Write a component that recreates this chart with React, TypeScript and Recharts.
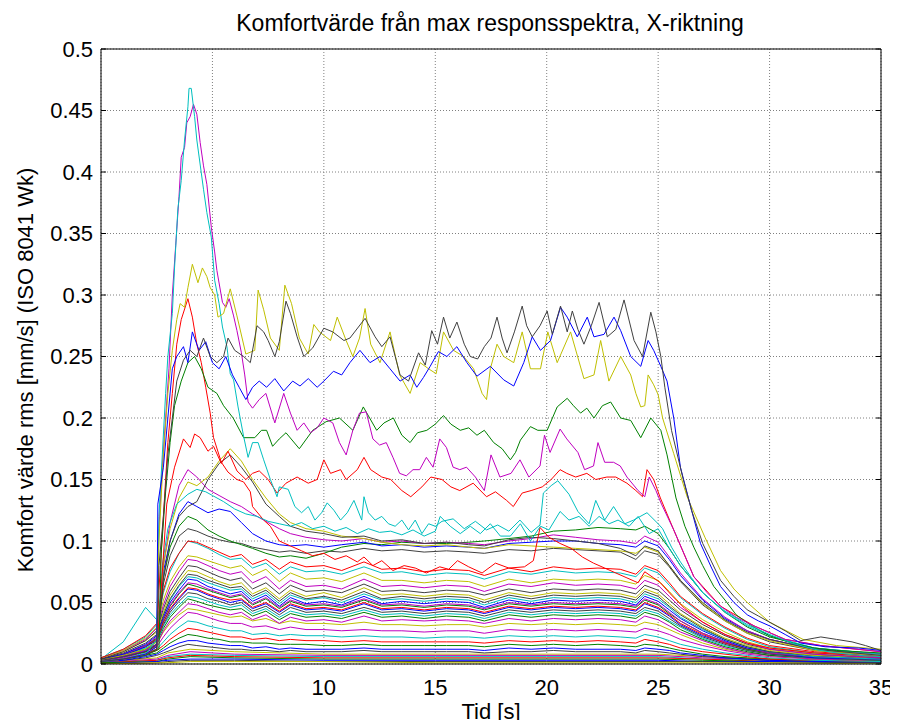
import React from 'react';
import { LineChart, Line, XAxis, YAxis, CartesianGrid } from 'recharts';

const BLUE = '#0000ff';
const GREEN = '#008000';
const RED = '#ff0000';
const CYAN = '#00bfbf';
const MAGENTA = '#bf00bf';
const YELLOW = '#bfbf00';
const BLACK = '#404040';

const TITLE = 'Komfortvärde från max responsspektra, X-riktning';
const X_LABEL = 'Tid [s]';
const Y_LABEL = 'Komfort värde rms [mm/s] (ISO 8041 Wk)';

const xTicks = [0, 5, 10, 15, 20, 25, 30, 35];
const yTicks = [0, 0.05, 0.1, 0.15, 0.2, 0.25, 0.3, 0.35, 0.4, 0.45, 0.5];

// shared time grids (s)
const tGrid = [0, 1, 2, 2.5, 2.8, 3.1, 3.5, 3.9, 4.3, 4.8,
  5.3, 5.8, 6.3, 6.8, 7.4, 8, 8.5, 9.2, 10, 10.8,
  11.8, 12.6, 13.5, 14.5, 15.5, 16.5, 17.2, 18.3, 19.3, 20.3,
  21.3, 22.3, 23.3, 24, 24.4, 25, 25.5, 26, 27, 28,
  29, 30, 32, 35];
const tLow = [0, 2.5, 3, 4, 6, 10, 15, 20, 25, 27, 30, 35];

// near-zero lines
const z1 = [0.001, 0.005, 0.009, 0.012, 0.01, 0.008, 0.008, 0.008, 0.008, 0.006, 0.004, 0.003];
const z2 = [0.001, 0.004, 0.007, 0.01, 0.008, 0.007, 0.007, 0.007, 0.007, 0.005, 0.003, 0.002];
const z3 = [0.001, 0.003, 0.006, 0.008, 0.007, 0.006, 0.006, 0.006, 0.006, 0.004, 0.003, 0.002];
const z4 = [0.001, 0.003, 0.005, 0.007, 0.006, 0.005, 0.005, 0.005, 0.005, 0.004, 0.002, 0.002];
const z5 = [0.001, 0.002, 0.004, 0.006, 0.005, 0.004, 0.004, 0.004, 0.004, 0.003, 0.002, 0.001];
const z6 = [0.0, 0.002, 0.003, 0.004, 0.004, 0.003, 0.003, 0.003, 0.003, 0.002, 0.002, 0.001];
const z7 = [0.0, 0.001, 0.002, 0.003, 0.003, 0.002, 0.002, 0.002, 0.002, 0.002, 0.001, 0.001];
const z8 = [0.0, 0.001, 0.001, 0.002, 0.002, 0.002, 0.001, 0.001, 0.001, 0.001, 0.001, 0.0];

// low lines
const lo1 = [0.003, 0.006, 0.012, 0.016, 0.026, 0.033, 0.04, 0.045, 0.044, 0.042, 0.04, 0.038, 0.039, 0.035, 0.037, 0.033, 0.035, 0.033, 0.033, 0.032, 0.034, 0.032, 0.032, 0.031, 0.032, 0.032, 0.03, 0.033, 0.032, 0.033, 0.032, 0.033, 0.032, 0.031, 0.034, 0.032, 0.028, 0.024, 0.017, 0.012, 0.009, 0.007, 0.004, 0.003];
const lo2 = [0.003, 0.005, 0.01, 0.014, 0.022, 0.029, 0.036, 0.042, 0.041, 0.038, 0.035, 0.033, 0.033, 0.03, 0.031, 0.028, 0.03, 0.028, 0.028, 0.027, 0.028, 0.027, 0.027, 0.026, 0.027, 0.027, 0.025, 0.028, 0.027, 0.028, 0.027, 0.028, 0.027, 0.026, 0.029, 0.027, 0.024, 0.02, 0.015, 0.011, 0.008, 0.006, 0.004, 0.003];
const lo3 = [0.002, 0.005, 0.009, 0.012, 0.018, 0.024, 0.03, 0.035, 0.034, 0.031, 0.029, 0.027, 0.027, 0.024, 0.025, 0.023, 0.024, 0.023, 0.023, 0.022, 0.023, 0.022, 0.022, 0.021, 0.022, 0.022, 0.021, 0.023, 0.022, 0.023, 0.022, 0.023, 0.022, 0.021, 0.024, 0.022, 0.019, 0.016, 0.012, 0.009, 0.007, 0.005, 0.003, 0.002];
const lo4 = [0.002, 0.004, 0.008, 0.011, 0.015, 0.02, 0.025, 0.029, 0.028, 0.026, 0.024, 0.022, 0.022, 0.02, 0.021, 0.019, 0.02, 0.019, 0.019, 0.018, 0.019, 0.018, 0.018, 0.018, 0.018, 0.018, 0.017, 0.019, 0.018, 0.019, 0.018, 0.019, 0.018, 0.017, 0.02, 0.018, 0.016, 0.013, 0.01, 0.008, 0.006, 0.004, 0.003, 0.002];
const lo5 = [0.002, 0.004, 0.007, 0.009, 0.013, 0.017, 0.021, 0.024, 0.023, 0.021, 0.02, 0.018, 0.018, 0.017, 0.017, 0.016, 0.016, 0.016, 0.015, 0.015, 0.016, 0.015, 0.015, 0.015, 0.015, 0.015, 0.014, 0.016, 0.015, 0.016, 0.015, 0.016, 0.015, 0.014, 0.016, 0.015, 0.013, 0.011, 0.008, 0.006, 0.005, 0.004, 0.003, 0.002];
const lo6 = [0.002, 0.003, 0.006, 0.008, 0.011, 0.014, 0.017, 0.019, 0.019, 0.017, 0.016, 0.015, 0.015, 0.013, 0.014, 0.012, 0.013, 0.012, 0.012, 0.012, 0.013, 0.012, 0.012, 0.012, 0.012, 0.012, 0.011, 0.013, 0.012, 0.013, 0.012, 0.012, 0.012, 0.011, 0.013, 0.012, 0.011, 0.009, 0.007, 0.005, 0.004, 0.003, 0.002, 0.002];
const lo7 = [0.002, 0.003, 0.005, 0.007, 0.009, 0.011, 0.014, 0.016, 0.015, 0.014, 0.013, 0.012, 0.012, 0.011, 0.011, 0.01, 0.011, 0.01, 0.01, 0.01, 0.011, 0.01, 0.01, 0.01, 0.01, 0.01, 0.009, 0.01, 0.01, 0.011, 0.01, 0.01, 0.01, 0.009, 0.011, 0.01, 0.009, 0.008, 0.006, 0.005, 0.004, 0.003, 0.002, 0.002];

// dense band 0.035 - 0.06
const b1 = [0.005, 0.01, 0.019, 0.026, 0.042, 0.056, 0.067, 0.076, 0.075, 0.071, 0.067, 0.064, 0.066, 0.057, 0.062, 0.053, 0.06, 0.055, 0.058, 0.054, 0.062, 0.056, 0.057, 0.055, 0.057, 0.056, 0.052, 0.058, 0.055, 0.058, 0.057, 0.058, 0.057, 0.054, 0.061, 0.057, 0.049, 0.041, 0.03, 0.021, 0.015, 0.011, 0.007, 0.005];
const b2 = [0.004, 0.009, 0.017, 0.024, 0.04, 0.053, 0.064, 0.073, 0.072, 0.068, 0.065, 0.062, 0.063, 0.055, 0.06, 0.051, 0.058, 0.053, 0.055, 0.052, 0.059, 0.053, 0.055, 0.053, 0.055, 0.054, 0.05, 0.056, 0.053, 0.056, 0.055, 0.056, 0.055, 0.052, 0.059, 0.055, 0.047, 0.04, 0.029, 0.02, 0.014, 0.01, 0.007, 0.005];
const b3 = [0.004, 0.018, 0.046, 0.036, 0.04, 0.052, 0.063, 0.071, 0.07, 0.066, 0.063, 0.06, 0.061, 0.053, 0.058, 0.049, 0.056, 0.052, 0.054, 0.05, 0.057, 0.052, 0.053, 0.051, 0.053, 0.052, 0.048, 0.054, 0.051, 0.054, 0.053, 0.054, 0.053, 0.05, 0.057, 0.053, 0.046, 0.038, 0.028, 0.02, 0.014, 0.01, 0.006, 0.004];
const b4 = [0.004, 0.008, 0.016, 0.023, 0.038, 0.05, 0.06, 0.069, 0.068, 0.063, 0.06, 0.057, 0.059, 0.051, 0.056, 0.047, 0.054, 0.049, 0.051, 0.048, 0.055, 0.049, 0.051, 0.049, 0.051, 0.05, 0.046, 0.052, 0.049, 0.052, 0.051, 0.052, 0.051, 0.048, 0.055, 0.051, 0.044, 0.037, 0.027, 0.019, 0.013, 0.01, 0.006, 0.004];
const b5 = [0.004, 0.008, 0.015, 0.022, 0.037, 0.048, 0.058, 0.066, 0.065, 0.061, 0.058, 0.055, 0.057, 0.049, 0.054, 0.046, 0.052, 0.048, 0.049, 0.047, 0.053, 0.048, 0.049, 0.047, 0.049, 0.048, 0.045, 0.05, 0.048, 0.05, 0.049, 0.05, 0.049, 0.047, 0.053, 0.049, 0.042, 0.035, 0.025, 0.018, 0.013, 0.009, 0.006, 0.004];
const b6 = [0.003, 0.008, 0.015, 0.021, 0.036, 0.047, 0.057, 0.065, 0.063, 0.06, 0.057, 0.054, 0.056, 0.048, 0.053, 0.045, 0.051, 0.047, 0.048, 0.046, 0.052, 0.047, 0.048, 0.046, 0.048, 0.047, 0.044, 0.049, 0.047, 0.049, 0.048, 0.049, 0.048, 0.046, 0.052, 0.048, 0.041, 0.035, 0.025, 0.018, 0.012, 0.009, 0.006, 0.004];
const b7 = [0.003, 0.008, 0.015, 0.02, 0.034, 0.045, 0.054, 0.062, 0.061, 0.057, 0.054, 0.052, 0.053, 0.046, 0.05, 0.043, 0.049, 0.045, 0.046, 0.044, 0.05, 0.045, 0.046, 0.044, 0.046, 0.045, 0.042, 0.047, 0.045, 0.047, 0.046, 0.047, 0.046, 0.044, 0.05, 0.046, 0.04, 0.033, 0.024, 0.017, 0.012, 0.009, 0.006, 0.004];
const b8 = [0.003, 0.007, 0.014, 0.02, 0.034, 0.044, 0.053, 0.061, 0.06, 0.056, 0.053, 0.05, 0.052, 0.045, 0.049, 0.042, 0.048, 0.044, 0.045, 0.043, 0.049, 0.044, 0.045, 0.043, 0.045, 0.044, 0.041, 0.046, 0.044, 0.046, 0.045, 0.046, 0.045, 0.043, 0.049, 0.045, 0.039, 0.032, 0.023, 0.017, 0.012, 0.009, 0.005, 0.004];
const b9 = [0.003, 0.007, 0.014, 0.019, 0.032, 0.042, 0.051, 0.058, 0.057, 0.053, 0.051, 0.048, 0.05, 0.043, 0.047, 0.04, 0.046, 0.042, 0.043, 0.041, 0.046, 0.042, 0.043, 0.041, 0.043, 0.042, 0.039, 0.044, 0.042, 0.044, 0.043, 0.044, 0.043, 0.041, 0.046, 0.043, 0.037, 0.031, 0.022, 0.016, 0.011, 0.008, 0.005, 0.003];
const b10 = [0.003, 0.007, 0.013, 0.018, 0.031, 0.04, 0.048, 0.055, 0.054, 0.051, 0.048, 0.046, 0.048, 0.041, 0.045, 0.038, 0.043, 0.04, 0.041, 0.039, 0.044, 0.04, 0.041, 0.039, 0.041, 0.04, 0.037, 0.042, 0.04, 0.042, 0.041, 0.042, 0.041, 0.039, 0.044, 0.041, 0.035, 0.03, 0.021, 0.015, 0.011, 0.008, 0.005, 0.003];
const b11 = [0.003, 0.007, 0.012, 0.018, 0.029, 0.038, 0.046, 0.053, 0.051, 0.048, 0.046, 0.044, 0.045, 0.039, 0.043, 0.036, 0.041, 0.038, 0.039, 0.037, 0.042, 0.038, 0.039, 0.037, 0.039, 0.038, 0.035, 0.04, 0.038, 0.04, 0.039, 0.04, 0.039, 0.037, 0.042, 0.039, 0.034, 0.028, 0.02, 0.014, 0.01, 0.007, 0.005, 0.003];
const b12 = [0.003, 0.006, 0.012, 0.016, 0.027, 0.035, 0.042, 0.049, 0.048, 0.045, 0.042, 0.04, 0.042, 0.036, 0.04, 0.033, 0.038, 0.035, 0.036, 0.034, 0.039, 0.035, 0.036, 0.035, 0.036, 0.035, 0.033, 0.037, 0.035, 0.037, 0.036, 0.037, 0.036, 0.034, 0.039, 0.036, 0.031, 0.026, 0.019, 0.013, 0.009, 0.007, 0.004, 0.003];

// middle lines 0.06 - 0.08
const m1 = [0.004, 0.01, 0.019, 0.027, 0.045, 0.059, 0.07, 0.08, 0.079, 0.075, 0.071, 0.068, 0.07, 0.061, 0.066, 0.057, 0.064, 0.059, 0.06, 0.058, 0.065, 0.059, 0.06, 0.058, 0.06, 0.059, 0.056, 0.061, 0.058, 0.061, 0.06, 0.061, 0.06, 0.057, 0.064, 0.06, 0.052, 0.044, 0.032, 0.023, 0.016, 0.012, 0.008, 0.005];
const m2 = [0.005, 0.011, 0.02, 0.029, 0.048, 0.063, 0.075, 0.085, 0.084, 0.08, 0.076, 0.073, 0.075, 0.066, 0.071, 0.061, 0.068, 0.063, 0.064, 0.061, 0.069, 0.063, 0.064, 0.062, 0.064, 0.063, 0.059, 0.065, 0.063, 0.066, 0.064, 0.065, 0.064, 0.061, 0.068, 0.064, 0.055, 0.046, 0.034, 0.024, 0.017, 0.012, 0.008, 0.005];
const m3 = [0.005, 0.011, 0.021, 0.03, 0.052, 0.067, 0.079, 0.088, 0.087, 0.084, 0.081, 0.078, 0.08, 0.072, 0.077, 0.067, 0.074, 0.069, 0.07, 0.067, 0.074, 0.068, 0.068, 0.066, 0.068, 0.067, 0.063, 0.069, 0.066, 0.069, 0.068, 0.069, 0.068, 0.065, 0.072, 0.068, 0.059, 0.049, 0.036, 0.026, 0.018, 0.013, 0.009, 0.006];
const m4 = [0.005, 0.012, 0.022, 0.032, 0.058, 0.075, 0.09, 0.1, 0.098, 0.094, 0.089, 0.085, 0.086, 0.078, 0.082, 0.073, 0.079, 0.075, 0.076, 0.073, 0.079, 0.074, 0.075, 0.072, 0.074, 0.073, 0.069, 0.075, 0.073, 0.076, 0.074, 0.075, 0.074, 0.071, 0.078, 0.074, 0.064, 0.054, 0.04, 0.029, 0.02, 0.014, 0.009, 0.006];
const m5 = [0.005, 0.012, 0.023, 0.033, 0.06, 0.078, 0.09, 0.1, 0.099, 0.095, 0.091, 0.087, 0.089, 0.081, 0.085, 0.077, 0.083, 0.079, 0.08, 0.076, 0.083, 0.077, 0.078, 0.075, 0.077, 0.076, 0.072, 0.078, 0.075, 0.079, 0.077, 0.078, 0.077, 0.073, 0.08, 0.076, 0.066, 0.055, 0.041, 0.03, 0.021, 0.015, 0.01, 0.006];

// cluster around 0.1
const cBlack = [0.003, 0.006, 0.01, 0.016, 0.07, 0.1, 0.12, 0.128, 0.132, 0.15, 0.163, 0.17, 0.16, 0.148, 0.13, 0.12, 0.112, 0.108, 0.106, 0.103, 0.104, 0.1, 0.101, 0.098, 0.099, 0.097, 0.096, 0.101, 0.103, 0.102, 0.1, 0.098, 0.094, 0.088, 0.096, 0.092, 0.08, 0.068, 0.05, 0.036, 0.026, 0.02, 0.012, 0.007];
const cYellow = [0.003, 0.007, 0.012, 0.018, 0.08, 0.11, 0.135, 0.148, 0.145, 0.152, 0.165, 0.175, 0.165, 0.15, 0.135, 0.122, 0.115, 0.11, 0.108, 0.104, 0.102, 0.099, 0.097, 0.096, 0.097, 0.095, 0.094, 0.097, 0.096, 0.095, 0.094, 0.093, 0.092, 0.09, 0.095, 0.091, 0.08, 0.068, 0.049, 0.035, 0.025, 0.019, 0.011, 0.007];
const cMagenta = [0.003, 0.006, 0.011, 0.016, 0.08, 0.115, 0.145, 0.158, 0.152, 0.142, 0.137, 0.132, 0.128, 0.122, 0.116, 0.11, 0.106, 0.103, 0.101, 0.1, 0.102, 0.099, 0.1, 0.098, 0.099, 0.098, 0.097, 0.1, 0.102, 0.105, 0.103, 0.101, 0.1, 0.098, 0.104, 0.099, 0.087, 0.074, 0.053, 0.038, 0.027, 0.02, 0.012, 0.008];
const cBlue = [0.003, 0.006, 0.011, 0.016, 0.075, 0.1, 0.122, 0.132, 0.128, 0.123, 0.126, 0.124, 0.115, 0.106, 0.1, 0.097, 0.096, 0.097, 0.095, 0.097, 0.099, 0.096, 0.097, 0.095, 0.096, 0.095, 0.094, 0.098, 0.099, 0.1, 0.1, 0.098, 0.097, 0.095, 0.1, 0.096, 0.085, 0.072, 0.052, 0.037, 0.027, 0.02, 0.012, 0.008];
const cGreen = [0.003, 0.006, 0.01, 0.015, 0.07, 0.095, 0.112, 0.12, 0.117, 0.109, 0.104, 0.1, 0.097, 0.094, 0.09, 0.087, 0.088, 0.086, 0.09, 0.095, 0.098, 0.097, 0.099, 0.098, 0.098, 0.099, 0.1, 0.102, 0.104, 0.108, 0.109, 0.111, 0.11, 0.109, 0.112, 0.106, 0.094, 0.08, 0.058, 0.042, 0.03, 0.022, 0.013, 0.008];
const cBlack2 = [0.003, 0.006, 0.01, 0.015, 0.065, 0.088, 0.104, 0.11, 0.108, 0.104, 0.101, 0.099, 0.098, 0.095, 0.093, 0.091, 0.092, 0.09, 0.092, 0.091, 0.094, 0.092, 0.093, 0.091, 0.092, 0.091, 0.09, 0.093, 0.092, 0.094, 0.093, 0.092, 0.091, 0.085, 0.092, 0.089, 0.079, 0.067, 0.048, 0.035, 0.025, 0.018, 0.011, 0.007];

// upper lines as [time, value]
const cyanMid = [[0, 0.002], [1, 0.004], [2, 0.008], [2.5, 0.012], [2.75, 0.08], [3.0, 0.11], [3.4, 0.13], [3.9, 0.138], [4.3, 0.142], [4.7, 0.14], [5.0, 0.137], [5.5, 0.132], [6.0, 0.126], [6.5, 0.122], [7.0, 0.12], [7.5, 0.116], [8.0, 0.114], [8.5, 0.112], [9.0, 0.115], [9.5, 0.11], [10, 0.112], [10.5, 0.108], [11, 0.111], [11.5, 0.106], [12, 0.11], [12.5, 0.107], [13, 0.108], [13.5, 0.105], [14, 0.109], [14.5, 0.104], [15.0, 0.108], [15.22, 0.12], [15.67, 0.112], [16.12, 0.106], [16.57, 0.112], [17.02, 0.106], [17.47, 0.114], [17.92, 0.104], [18.37, 0.104], [18.82, 0.114], [19.27, 0.1], [19.72, 0.112], [20.1, 0.109], [20.6, 0.124], [21.0, 0.117], [21.45, 0.12], [21.9, 0.112], [22.35, 0.12], [22.8, 0.114], [23.2, 0.117], [23.7, 0.112], [24.1, 0.12], [24.6, 0.106], [25.0, 0.11], [25.5, 0.094], [26.0, 0.08], [27, 0.058], [28, 0.042], [29, 0.031], [30, 0.023], [32, 0.013], [35, 0.008]];

const redMid = [[0, 0.002], [1, 0.004], [2, 0.008], [2.5, 0.012], [2.7, 0.06], [2.95, 0.13], [3.3, 0.16], [3.7, 0.183], [4.0, 0.176], [4.2, 0.187], [4.45, 0.184], [4.8, 0.173], [5.05, 0.177], [5.4, 0.163], [5.7, 0.173], [6.1, 0.157], [6.5, 0.15], [6.8, 0.155], [7.1, 0.157], [7.5, 0.15], [7.9, 0.139], [8.3, 0.147], [8.8, 0.152], [9.3, 0.147], [9.7, 0.15], [10.0, 0.166], [10.3, 0.155], [10.75, 0.158], [11.0, 0.15], [11.5, 0.158], [11.8, 0.168], [12.1, 0.158], [12.6, 0.152], [13.0, 0.15], [13.5, 0.141], [13.9, 0.136], [14.4, 0.144], [14.8, 0.152], [15.3, 0.15], [15.7, 0.144], [16.1, 0.141], [16.7, 0.147], [17.3, 0.136], [17.7, 0.14], [18.2, 0.133], [18.5, 0.128], [18.9, 0.139], [19.3, 0.141], [19.8, 0.144], [20.2, 0.15], [20.6, 0.158], [20.9, 0.155], [21.3, 0.152], [21.8, 0.155], [22.2, 0.15], [22.7, 0.152], [23.1, 0.152], [23.6, 0.147], [24.0, 0.141], [24.3, 0.136], [24.5, 0.158], [24.8, 0.15], [25.1, 0.135], [25.7, 0.109], [26.6, 0.071], [27.8, 0.047], [29.3, 0.031], [30.7, 0.02], [32.3, 0.015], [35, 0.01]];

const redPeak = [[0, 0.002], [1, 0.004], [2, 0.008], [2.5, 0.012], [2.6, 0.06], [2.8, 0.12], [3.0, 0.18], [3.2, 0.22], [3.4, 0.26], [3.6, 0.28], [3.9, 0.297], [4.1, 0.282], [4.3, 0.26], [4.5, 0.245], [4.7, 0.225], [4.9, 0.204], [5.05, 0.184], [5.4, 0.164], [5.7, 0.156], [6.1, 0.15], [6.4, 0.148], [6.7, 0.14], [6.8, 0.128], [7.3, 0.117], [7.6, 0.112], [8.0, 0.1], [8.5, 0.096], [9.0, 0.092], [9.5, 0.088], [10.0, 0.09], [10.5, 0.085], [11.0, 0.088], [11.5, 0.083], [11.8, 0.087], [12.2, 0.08], [12.6, 0.084], [13.1, 0.076], [13.6, 0.08], [14.1, 0.078], [14.6, 0.074], [15.2, 0.079], [15.6, 0.077], [16.0, 0.084], [16.5, 0.079], [17.1, 0.074], [17.7, 0.082], [18.3, 0.078], [19.0, 0.079], [19.4, 0.084], [19.7, 0.111], [20.1, 0.103], [20.6, 0.098], [21.1, 0.094], [21.6, 0.087], [22.1, 0.082], [22.6, 0.078], [23.1, 0.074], [23.6, 0.07], [24.1, 0.066], [24.4, 0.075], [24.8, 0.07], [25.1, 0.066], [25.6, 0.056], [26.2, 0.045], [27, 0.034], [28, 0.024], [29, 0.017], [30, 0.013], [32, 0.009], [35, 0.006]];

const greenTop = [[0, 0.002], [1, 0.004], [2, 0.007], [2.6, 0.012], [2.7, 0.09], [2.9, 0.14], [3.1, 0.18], [3.3, 0.21], [3.6, 0.23], [3.9, 0.245], [4.2, 0.25], [4.5, 0.24], [4.8, 0.225], [5.2, 0.22], [5.5, 0.21], [5.93, 0.2], [6.4, 0.184], [6.9, 0.184], [7.2, 0.19], [7.43, 0.19], [7.7, 0.177], [8.0, 0.183], [8.3, 0.188], [8.9, 0.175], [9.5, 0.19], [10.1, 0.197], [10.7, 0.2], [11.3, 0.19], [11.77, 0.209], [12.37, 0.19], [12.7, 0.196], [13.12, 0.2], [13.5, 0.186], [13.87, 0.18], [14.2, 0.188], [14.62, 0.19], [15.0, 0.195], [15.37, 0.202], [15.7, 0.195], [16.12, 0.19], [16.5, 0.192], [16.87, 0.186], [17.2, 0.19], [17.62, 0.18], [18.0, 0.175], [18.37, 0.166], [18.6, 0.172], [18.82, 0.182], [19.27, 0.193], [19.6, 0.19], [20.02, 0.19], [20.47, 0.209], [20.92, 0.216], [21.2, 0.21], [21.52, 0.204], [21.8, 0.208], [22.12, 0.2], [22.5, 0.21], [22.87, 0.213], [23.32, 0.2], [23.77, 0.198], [24.22, 0.184], [24.67, 0.2], [25.12, 0.19], [25.4, 0.17], [25.8, 0.135], [26.2, 0.112], [26.6, 0.095], [27.0, 0.08], [27.5, 0.063], [28.0, 0.052], [28.5, 0.04], [29.2, 0.031], [30.0, 0.023], [31.0, 0.017], [32.0, 0.013], [33.0, 0.011], [35.0, 0.009]];

const magentaPeak = [[0, 0.002], [1, 0.004], [2, 0.008], [2.5, 0.015], [2.6, 0.11], [2.75, 0.16], [2.9, 0.2], [3.05, 0.24], [3.2, 0.3], [3.35, 0.34], [3.5, 0.38], [3.6, 0.412], [3.75, 0.42], [3.85, 0.44], [4.0, 0.445], [4.15, 0.455], [4.3, 0.447], [4.45, 0.424], [4.6, 0.405], [4.75, 0.39], [4.95, 0.355], [5.1, 0.335], [5.2, 0.32], [5.45, 0.294], [5.6, 0.29], [5.75, 0.297], [5.95, 0.283], [6.1, 0.271], [6.3, 0.253], [6.45, 0.235], [6.6, 0.213], [6.8, 0.208], [7.1, 0.215], [7.4, 0.22], [7.8, 0.196], [8.2, 0.22], [8.5, 0.204], [8.8, 0.19], [9.1, 0.196], [9.4, 0.188], [9.7, 0.192], [10.0, 0.2], [10.4, 0.196], [10.7, 0.18], [11.0, 0.17], [11.3, 0.19], [11.6, 0.204], [11.9, 0.205], [12.2, 0.183], [12.5, 0.178], [12.8, 0.18], [13.1, 0.168], [13.4, 0.155], [13.7, 0.153], [14.0, 0.158], [14.3, 0.158], [14.6, 0.168], [14.9, 0.16], [15.2, 0.183], [15.5, 0.176], [15.8, 0.16], [16.1, 0.158], [16.4, 0.16], [16.8, 0.152], [17.2, 0.141], [17.5, 0.17], [17.9, 0.152], [18.4, 0.155], [18.8, 0.166], [19.2, 0.152], [19.7, 0.161], [19.9, 0.186], [20.15, 0.172], [20.6, 0.191], [20.9, 0.183], [21.4, 0.172], [21.7, 0.158], [22.1, 0.161], [22.3, 0.18], [22.6, 0.164], [23.0, 0.164], [23.3, 0.161], [23.6, 0.152], [24.1, 0.141], [24.4, 0.136], [24.6, 0.152], [24.9, 0.141], [25.15, 0.13], [25.7, 0.109], [26.2, 0.088], [26.6, 0.071], [27.2, 0.058], [27.8, 0.047], [28.5, 0.038], [29.3, 0.031], [30.7, 0.02], [32.3, 0.015], [35, 0.01]];

const cyanPeak = [[0, 0.002], [1, 0.004], [2, 0.008], [2.5, 0.02], [2.6, 0.12], [2.75, 0.17], [2.9, 0.22], [3.0, 0.25], [3.2, 0.285], [3.3, 0.322], [3.45, 0.37], [3.6, 0.393], [3.75, 0.426], [3.9, 0.453], [3.95, 0.468], [4.05, 0.468], [4.2, 0.445], [4.3, 0.426], [4.6, 0.386], [4.75, 0.367], [4.95, 0.347], [5.1, 0.312], [5.3, 0.293], [5.45, 0.274], [5.65, 0.258], [5.8, 0.236], [5.95, 0.231], [6.15, 0.209], [6.4, 0.185], [6.6, 0.168], [6.8, 0.18], [7.05, 0.18], [7.3, 0.166], [7.6, 0.15], [7.9, 0.136], [8.0, 0.144], [8.4, 0.142], [8.7, 0.128], [9.0, 0.123], [9.3, 0.128], [9.6, 0.117], [9.9, 0.123], [10.15, 0.131], [10.45, 0.125], [10.75, 0.117], [11.05, 0.123], [11.35, 0.133], [11.7, 0.117], [11.8, 0.136], [12.0, 0.123], [12.3, 0.117], [12.6, 0.12], [12.9, 0.114], [13.2, 0.112], [13.5, 0.117], [13.8, 0.109], [14.1, 0.117], [14.4, 0.106], [14.7, 0.114], [15.0, 0.112], [15.3, 0.116], [15.8, 0.118], [16.3, 0.11], [16.8, 0.116], [17.3, 0.109], [17.8, 0.113], [18.3, 0.108], [18.8, 0.117], [19.3, 0.107], [19.7, 0.113], [19.85, 0.139], [20.2, 0.145], [20.5, 0.149], [21.0, 0.138], [21.4, 0.124], [21.9, 0.114], [22.2, 0.133], [22.6, 0.117], [23.0, 0.128], [23.5, 0.114], [23.9, 0.117], [24.5, 0.123], [25.0, 0.114], [25.2, 0.11], [25.6, 0.095], [26.0, 0.083], [26.5, 0.07], [27.0, 0.058], [27.5, 0.05], [28.0, 0.043], [29.0, 0.032], [30.0, 0.024], [31.0, 0.017], [32.0, 0.012], [33.0, 0.009], [34.0, 0.007], [35.0, 0.006]];

const yellowTop = [[0, 0.002], [1, 0.004], [2, 0.008], [2.5, 0.014], [2.6, 0.1], [2.8, 0.17], [3.0, 0.22], [3.2, 0.255], [3.4, 0.28], [3.55, 0.293], [3.75, 0.29], [3.9, 0.306], [4.1, 0.325], [4.35, 0.31], [4.55, 0.322], [4.75, 0.315], [4.9, 0.306], [5.1, 0.3], [5.25, 0.282], [5.5, 0.285], [5.8, 0.305], [6.1, 0.283], [6.5, 0.252], [6.9, 0.255], [7.05, 0.304], [7.3, 0.288], [7.6, 0.265], [8.0, 0.255], [8.25, 0.308], [8.55, 0.293], [8.9, 0.265], [9.3, 0.252], [9.55, 0.276], [9.8, 0.27], [10.3, 0.263], [10.6, 0.282], [11.0, 0.263], [11.3, 0.25], [11.6, 0.265], [11.85, 0.289], [12.1, 0.26], [12.52, 0.245], [12.97, 0.27], [13.4, 0.235], [13.87, 0.22], [14.32, 0.245], [14.7, 0.24], [15.04, 0.236], [15.37, 0.27], [15.82, 0.255], [16.27, 0.25], [16.72, 0.24], [17.1, 0.22], [17.3, 0.215], [17.47, 0.24], [17.77, 0.26], [18.07, 0.25], [18.52, 0.245], [18.9, 0.27], [19.27, 0.24], [19.72, 0.24], [20.05, 0.27], [20.47, 0.245], [21.07, 0.27], [21.67, 0.232], [22.12, 0.235], [22.42, 0.263], [22.79, 0.23], [23.32, 0.25], [23.77, 0.235], [24.0, 0.22], [24.22, 0.209], [24.4, 0.21], [24.55, 0.235], [24.8, 0.227], [25.0, 0.219], [25.2, 0.2], [25.7, 0.171], [26.3, 0.136], [27.1, 0.103], [27.8, 0.076], [28.4, 0.061], [29.0, 0.05], [30.0, 0.034], [31.5, 0.02], [33.0, 0.015], [35.0, 0.012]];

const blueTop = [[0, 0.002], [1, 0.004], [2, 0.008], [2.5, 0.014], [2.55, 0.13], [2.8, 0.16], [3.0, 0.2], [3.2, 0.24], [3.4, 0.25], [3.7, 0.258], [3.9, 0.245], [4.1, 0.27], [4.4, 0.255], [4.7, 0.262], [5.0, 0.245], [5.3, 0.24], [5.6, 0.25], [5.9, 0.235], [6.2, 0.225], [6.5, 0.215], [6.8, 0.225], [7.1, 0.23], [7.43, 0.225], [7.8, 0.232], [8.2, 0.222], [8.6, 0.23], [8.93, 0.226], [9.3, 0.232], [9.7, 0.225], [10.0, 0.23], [10.43, 0.238], [10.8, 0.235], [11.17, 0.245], [11.62, 0.255], [12.07, 0.245], [12.52, 0.25], [12.97, 0.24], [13.42, 0.23], [13.87, 0.235], [14.17, 0.225], [14.47, 0.233], [14.77, 0.242], [15.14, 0.254], [15.52, 0.25], [15.97, 0.258], [16.42, 0.245], [16.87, 0.234], [17.47, 0.242], [18.07, 0.231], [18.52, 0.226], [18.97, 0.245], [19.35, 0.266], [19.72, 0.255], [20.17, 0.263], [20.62, 0.29], [20.92, 0.282], [21.37, 0.266], [21.82, 0.282], [22.12, 0.266], [22.57, 0.268], [23.02, 0.282], [23.32, 0.271], [23.77, 0.25], [24.22, 0.242], [24.55, 0.263], [24.8, 0.255], [25.12, 0.242], [25.4, 0.23], [25.7, 0.2], [26.0, 0.16], [26.5, 0.125], [26.9, 0.098], [27.4, 0.078], [27.8, 0.063], [28.4, 0.05], [29.0, 0.04], [29.5, 0.035], [30.0, 0.031], [30.7, 0.024], [31.4, 0.017], [32.5, 0.014], [34.0, 0.013], [35.0, 0.011]];

const blackTop = [[0, 0.002], [1, 0.004], [2, 0.007], [2.5, 0.012], [2.6, 0.08], [2.8, 0.12], [3.0, 0.17], [3.2, 0.2], [3.4, 0.23], [3.7, 0.247], [4.0, 0.255], [4.3, 0.25], [4.6, 0.265], [4.9, 0.25], [5.2, 0.245], [5.5, 0.25], [5.7, 0.265], [6.0, 0.255], [6.4, 0.25], [6.7, 0.245], [7.0, 0.275], [7.3, 0.27], [7.5, 0.263], [7.8, 0.25], [8.0, 0.262], [8.3, 0.295], [8.5, 0.285], [8.8, 0.266], [9.1, 0.25], [9.5, 0.257], [10.0, 0.273], [10.4, 0.27], [10.9, 0.263], [11.17, 0.265], [11.85, 0.281], [12.3, 0.266], [12.6, 0.258], [12.97, 0.266], [13.42, 0.235], [13.8, 0.23], [14.25, 0.253], [14.55, 0.243], [14.84, 0.271], [15.1, 0.26], [15.37, 0.282], [15.65, 0.265], [15.97, 0.278], [16.3, 0.26], [16.57, 0.25], [16.9, 0.248], [17.2, 0.258], [17.5, 0.265], [17.77, 0.282], [18.0, 0.265], [18.22, 0.253], [18.55, 0.27], [18.9, 0.291], [19.1, 0.275], [19.35, 0.266], [19.7, 0.275], [20.02, 0.287], [20.25, 0.268], [20.62, 0.291], [20.92, 0.27], [21.15, 0.287], [21.4, 0.272], [21.67, 0.26], [22.0, 0.275], [22.35, 0.294], [22.72, 0.266], [23.1, 0.272], [23.47, 0.296], [23.92, 0.263], [24.3, 0.25], [24.67, 0.286], [24.9, 0.27], [25.12, 0.25], [25.3, 0.225], [25.6, 0.19], [26.1, 0.152], [26.5, 0.125], [27.0, 0.098], [27.4, 0.083], [27.8, 0.068], [28.4, 0.055], [29.0, 0.044], [29.5, 0.039], [30.0, 0.034], [30.7, 0.027], [31.4, 0.019], [32.0, 0.021], [32.3, 0.022], [33.0, 0.02], [33.7, 0.018], [34.3, 0.015], [35.0, 0.011]];

type Pt = { t: number; v: number };
const fromGrid = (ts: number[], vs: number[]): Pt[] =>
  vs.slice(0, ts.length).map((v, i) => ({ t: ts[i], v }));
const fromPairs = (p: number[][]): Pt[] => p.map(([t, v]) => ({ t, v }));

const series: { data: Pt[]; color: string }[] = [
  { data: fromGrid(tLow, z1), color: YELLOW },
  { data: fromGrid(tLow, z2), color: MAGENTA },
  { data: fromGrid(tLow, z3), color: CYAN },
  { data: fromGrid(tLow, z4), color: RED },
  { data: fromGrid(tLow, z5), color: GREEN },
  { data: fromGrid(tLow, z6), color: BLUE },
  { data: fromGrid(tLow, z7), color: BLACK },
  { data: fromGrid(tLow, z8), color: YELLOW },
  { data: fromGrid(tGrid, lo7), color: BLACK },
  { data: fromGrid(tGrid, lo6), color: BLUE },
  { data: fromGrid(tGrid, lo5), color: GREEN },
  { data: fromGrid(tGrid, lo4), color: RED },
  { data: fromGrid(tGrid, lo3), color: CYAN },
  { data: fromGrid(tGrid, lo2), color: MAGENTA },
  { data: fromGrid(tGrid, lo1), color: YELLOW },
  { data: fromGrid(tGrid, b12), color: MAGENTA },
  { data: fromGrid(tGrid, b11), color: GREEN },
  { data: fromGrid(tGrid, b10), color: CYAN },
  { data: fromGrid(tGrid, b9), color: BLACK },
  { data: fromGrid(tGrid, b8), color: BLUE },
  { data: fromGrid(tGrid, b7), color: RED },
  { data: fromGrid(tGrid, b6), color: GREEN },
  { data: fromGrid(tGrid, b5), color: MAGENTA },
  { data: fromGrid(tGrid, b4), color: BLUE },
  { data: fromGrid(tGrid, b3), color: CYAN },
  { data: fromGrid(tGrid, b2), color: BLACK },
  { data: fromGrid(tGrid, b1), color: YELLOW },
  { data: fromGrid(tGrid, m1), color: BLACK },
  { data: fromGrid(tGrid, m2), color: MAGENTA },
  { data: fromGrid(tGrid, m3), color: YELLOW },
  { data: fromGrid(tGrid, m4), color: CYAN },
  { data: fromGrid(tGrid, m5), color: RED },
  { data: fromGrid(tGrid, cBlack2), color: BLACK },
  { data: fromGrid(tGrid, cGreen), color: GREEN },
  { data: fromGrid(tGrid, cBlue), color: BLUE },
  { data: fromGrid(tGrid, cMagenta), color: MAGENTA },
  { data: fromGrid(tGrid, cYellow), color: YELLOW },
  { data: fromGrid(tGrid, cBlack), color: BLACK },
  { data: fromPairs(redPeak), color: RED },
  { data: fromPairs(cyanMid), color: CYAN },
  { data: fromPairs(redMid), color: RED },
  { data: fromPairs(greenTop), color: GREEN },
  { data: fromPairs(magentaPeak), color: MAGENTA },
  { data: fromPairs(cyanPeak), color: CYAN },
  { data: fromPairs(yellowTop), color: YELLOW },
  { data: fromPairs(blueTop), color: BLUE },
  { data: fromPairs(blackTop), color: BLACK },
];

const FONT = '"Liberation Sans", Arial, Helvetica, sans-serif';
const fmtY = (v: number) => (v === 0 ? '0' : String(Math.round(v * 100) / 100));
const empty = () => '';

export default function App() {
  return (
    <div style={{ position: 'relative', width: 890, height: 712, fontFamily: FONT, color: '#000' }}>
      <div style={{ position: 'absolute', left: 82, top: 4, width: 800, textAlign: 'center', fontSize: 23, lineHeight: '23px', whiteSpace: 'nowrap' }}>
        {TITLE}
      </div>
      <LineChart width={890} height={712} margin={{ top: 41, right: 17, bottom: 0, left: 33 }}>
        <CartesianGrid stroke="#808080" strokeDasharray="1 2" />
        <XAxis
          dataKey="t"
          type="number"
          domain={[0, 35]}
          ticks={xTicks}
          interval={0}
          allowDataOverflow
          height={56}
          tickLine={false}
          tickSize={0}
          tickMargin={15}
          axisLine={{ stroke: '#000' }}
          tick={{ fontSize: 22, fill: '#000', fontFamily: FONT }}
        />
        <XAxis
          xAxisId="top"
          orientation="top"
          type="number"
          domain={[0, 35]}
          ticks={xTicks}
          interval={0}
          allowDataOverflow
          mirror
          height={1}
          tickSize={5}
          tickFormatter={empty}
          axisLine={{ stroke: '#000' }}
          tickLine={{ stroke: '#000' }}
        />
        <XAxis
          xAxisId="bm"
          orientation="bottom"
          type="number"
          domain={[0, 35]}
          ticks={xTicks}
          interval={0}
          allowDataOverflow
          mirror
          height={1}
          tickSize={5}
          tickFormatter={empty}
          axisLine={false}
          tickLine={{ stroke: '#000' }}
        />
        <YAxis
          type="number"
          domain={[0, 0.5]}
          ticks={yTicks}
          interval={0}
          allowDataOverflow
          width={60}
          tickLine={false}
          tickSize={0}
          tickMargin={8}
          tickFormatter={fmtY}
          axisLine={{ stroke: '#000' }}
          tick={{ fontSize: 22, fill: '#000', fontFamily: FONT }}
        />
        <YAxis
          yAxisId="right"
          orientation="right"
          type="number"
          domain={[0, 0.5]}
          ticks={yTicks}
          interval={0}
          allowDataOverflow
          mirror
          width={1}
          tickSize={5}
          tickFormatter={empty}
          axisLine={{ stroke: '#000' }}
          tickLine={{ stroke: '#000' }}
        />
        <YAxis
          yAxisId="lm"
          orientation="left"
          type="number"
          domain={[0, 0.5]}
          ticks={yTicks}
          interval={0}
          allowDataOverflow
          mirror
          width={1}
          tickSize={5}
          tickFormatter={empty}
          axisLine={false}
          tickLine={{ stroke: '#000' }}
        />
        {series.map((s, i) => (
          <Line
            key={i}
            data={s.data}
            dataKey="v"
            type="linear"
            stroke={s.color}
            strokeWidth={1}
            dot={false}
            activeDot={false}
            isAnimationActive={false}
          />
        ))}
      </LineChart>
      <div style={{ position: 'absolute', left: 283, top: 693, width: 400, textAlign: 'center', fontSize: 22, lineHeight: '22px', whiteSpace: 'nowrap' }}>
        {X_LABEL}
      </div>
      <div style={{ position: 'absolute', left: 18 - 260, top: 362 - 11, width: 520, height: 22, textAlign: 'center', fontSize: 22, lineHeight: '22px', whiteSpace: 'nowrap', transform: 'rotate(-90deg)' }}>
        {Y_LABEL}
      </div>
    </div>
  );
}
